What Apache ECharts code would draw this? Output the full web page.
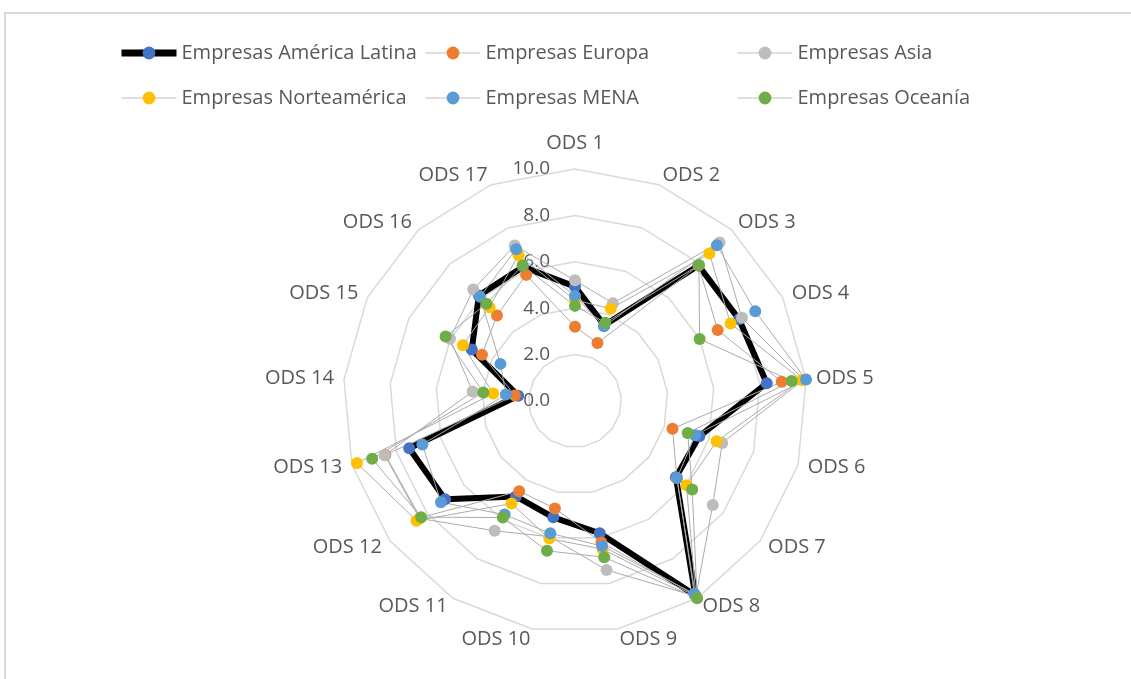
<!DOCTYPE html>
<html>
<head>
<meta charset="utf-8">
<script src="https://cdn.jsdelivr.net/npm/echarts@6/dist/echarts.min.js"></script>
<style>
  html, body { margin: 0; padding: 0; background: #fff; overflow: hidden; }
  #frame { position: absolute; left: 4px; top: 12px; width: 1200px; height: 720px;
           border: 2px solid #d9d9d9; box-sizing: border-box; }
  #chart { position: absolute; left: 0; top: 0; width: 1131px; height: 679px; }
</style>
</head>
<body>
<div id="frame"></div>
<div id="chart"></div>
<script>
// Sustainable Development Goal axes (ODS 1 .. ODS 17)
const odsLabels = ['ODS 1', 'ODS 2', 'ODS 3', 'ODS 4', 'ODS 5', 'ODS 6', 'ODS 7', 'ODS 8', 'ODS 9',
  'ODS 10', 'ODS 11', 'ODS 12', 'ODS 13', 'ODS 14', 'ODS 15', 'ODS 16', 'ODS 17'];

// Scores per region, in ODS 1 .. ODS 17 order
const latam   = [4.93, 3.50, 7.90, 7.90, 8.30, 5.57, 5.45, 9.85, 5.80, 5.10, 4.84, 7.02, 7.43, 2.46, 4.97, 6.15, 6.20];
const europa  = [3.20, 2.68, 7.90, 6.87, 8.95, 4.37, 5.50, 9.85, 6.20, 4.71, 4.57, 8.35, 8.50, 2.60, 4.48, 4.99, 5.83];
const asia    = [5.20, 4.52, 9.25, 8.04, 9.90, 6.60, 7.44, 9.90, 7.41, 5.95, 6.58, 8.40, 8.53, 4.43, 6.02, 6.51, 7.19];
const norte   = [4.35, 4.27, 8.60, 7.49, 9.81, 6.35, 6.02, 9.90, 6.50, 6.03, 5.20, 8.56, 9.77, 3.54, 5.40, 5.47, 6.75];
const mena    = [4.53, 3.45, 9.08, 8.68, 10.0, 5.38, 5.51, 9.77, 6.36, 5.80, 5.76, 7.24, 6.84, 2.99, 3.59, 6.08, 7.02];
const oceania = [4.10, 3.62, 7.93, 6.00, 9.38, 5.05, 6.33, 10.0, 6.85, 6.57, 5.91, 8.31, 9.09, 3.97, 6.23, 5.67, 6.26];

const seriesNames = ['Empresas América Latina', 'Empresas Europa', 'Empresas Asia',
  'Empresas Norteamérica', 'Empresas MENA', 'Empresas Oceanía'];
const seriesValues = [latam, europa, asia, norte, mena, oceania];
const markerColors = ['#4472C4', '#ED7D31', '#BDBDBD', '#FFC000', '#5B9BD5', '#70AD47'];

const axisMax = 10;
const axisSplits = 5;

// radar axes run counter-clockwise, so list ODS 1 then ODS 17 .. ODS 2 to read clockwise
const order = [0];
for (let i = odsLabels.length - 1; i >= 1; i--) order.push(i);

const FONT = 'Open Sans';
const TEXT_COLOR = '#595959';
const FONT_SIZE = 20;

const indicators = order.map((i, k) => {
  const ind = { name: odsLabels[i], min: 0, max: axisMax };
  if (k === 0) {
    ind.axisLabel = {
      show: true, margin: 25, color: TEXT_COLOR, fontSize: 19, fontFamily: FONT,
      formatter: v => Number(v).toFixed(1)
    };
  }
  return ind;
});

function lineStyleFor(idx) {
  return idx === 0 ? { color: '#000000', width: 6, join: 'round' }
                   : { color: '#ABABAB', width: 1 };
}

// empty line series supply the line + marker legend icons
const legendSeries = seriesNames.map((name, idx) => ({
  type: 'line', name, data: [], xAxisIndex: 0, yAxisIndex: 0,
  symbol: 'circle', symbolSize: 12,
  itemStyle: { color: markerColors[idx] },
  lineStyle: lineStyleFor(idx)
}));

const radarSeries = seriesNames.map((name, idx) => ({
  type: 'radar', name, silent: true,
  symbol: 'circle', symbolSize: 12,
  itemStyle: { color: markerColors[idx] },
  lineStyle: lineStyleFor(idx),
  data: [{ name, value: order.map(i => seriesValues[idx][i]) }]
}));

function legendColumn(left, idxs) {
  return {
    orient: 'vertical', left, top: 43, itemGap: 25, padding: 0,
    itemWidth: 55, itemHeight: 16, selectedMode: false,
    data: idxs.map(i => ({
      name: seriesNames[i],
      lineStyle: { width: i === 0 ? 7 : 1, color: i === 0 ? '#000000' : '#BFBFBF' }
    })),
    textStyle: { color: TEXT_COLOR, fontSize: FONT_SIZE, fontFamily: FONT }
  };
}

const chart = echarts.init(document.getElementById('chart'), null, { renderer: 'canvas' });
chart.setOption({
  animation: false,
  backgroundColor: 'transparent',
  legend: [
    legendColumn(118, [0, 3]),
    legendColumn(425, [1, 4]),
    legendColumn(737, [2, 5])
  ],
  grid: { show: false, left: 0, top: 0, width: 1, height: 1 },
  xAxis: { show: false, type: 'category', data: [] },
  yAxis: { show: false, type: 'value' },
  radar: {
    center: [575, 401],
    radius: 232,
    startAngle: 90,
    shape: 'polygon',
    splitNumber: axisSplits,
    indicator: indicators,
    nameGap: 10,
    axisName: {
      color: TEXT_COLOR, fontSize: FONT_SIZE, fontFamily: FONT,
      formatter: name => name === odsLabels[0] ? '{top|' + name + '}' : name,
      rich: { top: { color: TEXT_COLOR, fontSize: FONT_SIZE, fontFamily: FONT, padding: [0, 0, 6, 0] } }
    },
    axisLine: { show: false },
    axisTick: { show: false },
    splitArea: { show: false },
    splitLine: { lineStyle: { color: '#D9D9D9', width: 1.5 } }
  },
  series: legendSeries.concat(radarSeries)
});
</script>
</body>
</html>
